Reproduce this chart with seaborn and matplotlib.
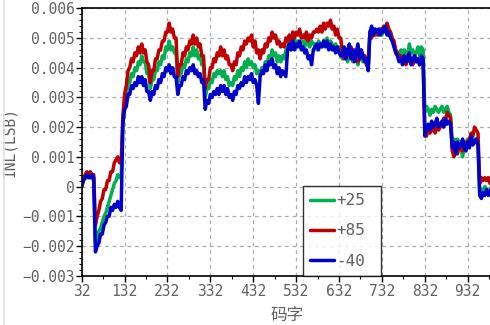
import numpy as np
import pandas as pd
import matplotlib
matplotlib.use("Agg")
import matplotlib.pyplot as plt
from matplotlib.lines import Line2D
from matplotlib.ticker import MultipleLocator, FixedLocator
import seaborn as sns

# ---------------- data (INL values in units of 1e-4 LSB, codes 32..988 step 4) ----------------
codes = list(range(32, 992, 4))

inl_p25 = [  # +25
    0, 2, 3, 3, 4, 3, 3, 2,
    -19, -17, -15, -14, -12, -10, -9, -7, -5, -3, -1, 1, 2, 4, 3, 3,
    22, 28, 30, 35, 35, 38, 37, 40, 39, 42, 41, 44, 42, 42, 38, 38,
    33, 36, 36, 39, 39, 42, 41, 44, 43, 47, 46, 49, 46, 47, 45, 45,
    35, 38, 38, 41, 40, 43, 42, 45, 44, 47, 44, 46, 43, 44, 41, 41,
    30, 33, 33, 36, 35, 38, 37, 39, 38, 39, 37, 39, 36, 37, 34, 35,
    34, 37, 36, 39, 37, 40, 39, 42, 40, 43, 41, 42, 40, 41, 38, 39,
    37, 40, 39, 42, 41, 44, 43, 46, 44, 45, 42, 44, 42, 44, 43, 46,
    47, 49, 46, 48, 50, 47, 49, 48, 47, 49, 47, 50, 48, 47, 49, 48,
    48, 46, 49, 48, 47, 49, 48, 50, 47, 49, 48, 46, 48, 46, 47, 45,
    43, 45, 44, 42, 45, 44, 42, 45, 44, 41, 44, 43, 42, 44, 41, 40,
    52, 53, 51, 53, 51, 52, 53, 51, 53, 52, 53, 51, 52, 49, 48, 46,
    45, 44, 46, 44, 46, 45, 44, 48, 45, 46, 44, 45, 47, 44, 47, 46,
    25, 27, 26, 24, 26, 25, 27, 26, 25, 26, 27, 25, 26, 27, 25, 24,
    15, 16, 15, 16, 15, 14, 10, 13, 15, 16, 15, 16, 15, 16, 15, 14,
    -2, -1, -2, 0, -1, -2, -1, 0,
]

inl_p85 = [  # +85
    0, 3, 4, 5, 4, 5, 4, 4,
    -13, -10, -8, -5, -4, -1, -1, 2, 2, 5, 5, 8, 9, 10, 8, 8,
    24, 31, 34, 39, 40, 43, 42, 45, 44, 47, 45, 48, 45, 46, 42, 41,
    35, 39, 39, 43, 43, 46, 46, 49, 49, 52, 52, 55, 52, 53, 50, 50,
    37, 41, 41, 45, 44, 47, 46, 49, 48, 51, 48, 50, 47, 48, 44, 44,
    33, 36, 36, 40, 40, 43, 42, 45, 44, 47, 44, 46, 43, 44, 41, 41,
    39, 42, 41, 45, 44, 47, 46, 49, 48, 50, 49, 51, 47, 49, 45, 46,
    43, 46, 45, 48, 47, 50, 49, 52, 50, 51, 48, 49, 47, 48, 47, 50,
    49, 51, 49, 52, 50, 52, 51, 53, 50, 51, 50, 52, 49, 51, 50, 52,
    52, 53, 52, 54, 52, 55, 53, 55, 54, 56, 53, 54, 51, 53, 50, 50,
    45, 43, 46, 44, 45, 47, 43, 46, 45, 42, 46, 45, 43, 44, 41, 40,
    52, 50, 53, 51, 52, 51, 53, 52, 54, 53, 55, 53, 52, 50, 49, 46,
    45, 43, 44, 42, 43, 41, 44, 42, 43, 41, 44, 42, 43, 41, 43, 42,
    19, 17, 20, 18, 19, 20, 18, 21, 19, 20, 21, 23, 22, 25, 24, 23,
    12, 10, 13, 11, 13, 14, 12, 15, 14, 15, 16, 18, 17, 20, 19, 18,
    1, 3, 2, 3, 2, 3, 1, 2,
]

inl_m40 = [  # -40
    0, 2, 3, 4, 3, 3, 4, 3,
    -22, -20, -19, -16, -16, -13, -12, -10, -10, -7, -8, -6, -7, -5, -7, -8,
    21, 26, 27, 31, 31, 34, 33, 35, 34, 37, 35, 37, 34, 36, 32, 32,
    29, 32, 31, 34, 33, 36, 35, 38, 37, 40, 39, 41, 38, 40, 37, 37,
    31, 34, 34, 37, 36, 39, 38, 40, 39, 41, 38, 39, 37, 38, 35, 36,
    26, 29, 28, 31, 30, 32, 31, 33, 31, 34, 32, 34, 31, 33, 30, 31,
    29, 32, 31, 34, 33, 35, 34, 37, 35, 37, 36, 38, 35, 36, 34, 28,
    37, 39, 38, 41, 39, 42, 41, 43, 40, 41, 38, 40, 37, 39, 38, 37,
    46, 48, 46, 49, 46, 48, 47, 49, 46, 47, 45, 46, 43, 44, 41, 46,
    47, 48, 46, 48, 47, 49, 47, 49, 46, 48, 46, 47, 45, 47, 45, 44,
    44, 47, 43, 46, 48, 43, 46, 42, 45, 48, 43, 46, 44, 42, 43, 39,
    52, 54, 51, 53, 52, 53, 51, 53, 52, 54, 51, 52, 50, 49, 47, 45,
    44, 42, 43, 41, 44, 42, 43, 45, 41, 43, 44, 42, 43, 41, 44, 43,
    17, 20, 21, 19, 22, 20, 21, 23, 20, 21, 22, 20, 23, 21, 22, 21,
    13, 15, 11, 15, 13, 14, 16, 13, 12, 15, 13, 17, 14, 15, 16, 14,
    -3, -4, -2, -3, -1, -3, -2, 0,
]

series_labels = ["+25", "+85", "-40"]
series_colors = ["#00B050", "#C00000", "#0000CC"]

x_ticks = [32, 132, 232, 332, 432, 532, 632, 732, 832, 932]
y_ticks = [-0.003, -0.002, -0.001, 0, 0.001, 0.002, 0.003, 0.004, 0.005, 0.006]
y_ticklabels = ["\u22120.003", "\u22120.002", "\u22120.001", "0", "0.001", "0.002",
                "0.003", "0.004", "0.005", "0.006"]

# ---------------- build long table ----------------
frames = []
for lab, vals in zip(series_labels, [inl_p25, inl_p85, inl_m40]):
    frames.append(pd.DataFrame({"code": codes, "inl": np.array(vals) * 1e-4, "temp": lab}))
df = pd.concat(frames, ignore_index=True)

# ---------------- style ----------------
sns.set_style("ticks")
plt.rcParams["font.family"] = ["DejaVu Sans Mono", "Noto Sans CJK SC"]
text_gray = "#606060"

fig = plt.figure(figsize=(4.9, 3.25), dpi=100)
W, H = 490, 325
left_px, right_px = 81.7, 81.7 + (1012 - 32) * 0.4289
top_px, bot_px = 8.3, 275.7
ax = fig.add_axes([left_px / W, 1 - bot_px / H, (right_px - left_px) / W, (bot_px - top_px) / H])

for lab, col in zip(series_labels, series_colors):
    sns.lineplot(data=df[df["temp"] == lab], x="code", y="inl", color=col,
                 linewidth=2.5, ax=ax, label=lab, sort=False)

ax.set_xlim(32, 1012)
ax.set_ylim(-0.003, 0.006)

ax.xaxis.set_major_locator(FixedLocator(x_ticks))
ax.xaxis.set_minor_locator(FixedLocator([t + 50 for t in x_ticks]))
ax.set_xticklabels([str(t) for t in x_ticks])
ax.yaxis.set_major_locator(FixedLocator(y_ticks))
ax.yaxis.set_minor_locator(MultipleLocator(0.0002))
ax.set_yticklabels(y_ticklabels)

ax.tick_params(axis="both", which="major", direction="out", length=4, width=1,
               color="black", labelsize=10.5, labelcolor=text_gray, pad=2)
ax.tick_params(axis="both", which="minor", direction="out", length=2.5, width=0.8, color="black")
ax.tick_params(axis="y", which="major", pad=1)

ax.grid(True, which="major", linestyle=(0, (3, 3)), color="#AAAAAA", linewidth=0.9)
for s in ["left", "bottom", "top", "right"]:
    ax.spines[s].set_color("black")
    ax.spines[s].set_linewidth(1.2)

ax.set_xlabel("码字", fontsize=12, color=text_gray)
ax.set_ylabel("INL(LSB)", fontsize=10.5, color=text_gray)
ax.xaxis.set_label_coords((287 - left_px) / (right_px - left_px), -0.115)
ax.yaxis.set_label_coords((17 - left_px) / (right_px - left_px), 0.5)

leg = ax.legend(loc="lower left", bbox_to_anchor=(0.527, 0.0, 0.184, 0.343), mode="expand",
                fontsize=11.5, frameon=True, fancybox=False, edgecolor="black",
                handlelength=1.5, handletextpad=0.1, labelspacing=0.95, borderpad=0.45,
                borderaxespad=0.0)
leg.get_frame().set_linewidth(1.0)
for t in leg.get_texts():
    t.set_color(text_gray)

fig.add_artist(Line2D([4 / W, 4 / W], [0, 1], transform=fig.transFigure, color="#E3E3E3", linewidth=1.2))

fig.savefig("out.png", dpi=100)
